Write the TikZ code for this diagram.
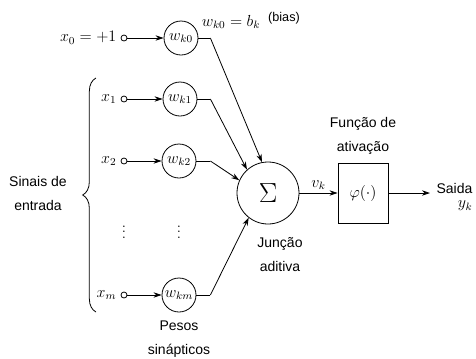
\documentclass[tikz,border=0pt]{standalone}
\usepackage{amsmath,amssymb}
\usepackage{fontspec}
\newfontfamily\lblfont{Liberation Sans}
\usetikzlibrary{arrows.meta,positioning,decorations.pathreplacing}

\begin{document}
\begin{tikzpicture}[x=0.75pt,y=-0.75pt,
  lbl/.style={font=\lblfont\fontsize{10.5}{18}\selectfont,align=center,inner sep=1pt},
  mth/.style={font=\fontsize{11.5}{13}\selectfont,inner sep=1pt},
  term/.style={circle,draw,fill=white,inner sep=0pt,minimum size=4.5pt,line width=0.6pt},
  wgt/.style={circle,draw,inner sep=0pt,minimum size=25.5pt,line width=0.6pt,font=\fontsize{12}{14}\selectfont},
  ar/.style={-{Stealth[length=6pt,width=4pt]},line width=0.6pt},
  ln/.style={line width=0.6pt}]
  \useasboundingbox (0,0) rectangle (476,358);
  % inputs and synaptic weights
  \node[term] (t0) at (124,38) {};
  \node[term] (t1) at (124,99) {};
  \node[term] (t2) at (124,161) {};
  \node[term] (tm) at (124,295) {};
  \node[mth,left=2pt of t0] (x0) {$x_0 = +1$};
  \node[mth,left=2pt of t1] (x1) {$x_1$};
  \node[mth,left=2pt of t2] (x2) {$x_2$};
  \node[mth,left=2pt of tm] (xm) {$x_m$};
  \node[wgt] (w0) at (181,38) {$w_{k0}$};
  \node[wgt] (w1) at (180,99) {$w_{k1}$};
  \node[wgt] (w2) at (179,161) {$w_{k2}$};
  \node[wgt] (wm) at (179,295) {$w_{km}$};
  \node[mth] (d1) at (124,228) {$\vdots$};
  \node[mth] (d2) at (179,228) {$\vdots$};
  \draw[ar] (t0)--(w0); \draw[ar] (t1)--(w1);
  \draw[ar] (t2)--(w2); \draw[ar] (tm)--(wm);
  \node[mth] (bk) at (231,22) {$w_{k0} = b_k$};
  \node[lbl,font=\lblfont\fontsize{9.5}{11}\selectfont] (bias) at (284,18) {(bias)};
  % summing junction and activation
  \node[circle,draw,line width=0.6pt,minimum size=46.5pt,font=\fontsize{20}{20}\selectfont] (sum) at (268,193) {$\Sigma$};
  \node[draw,line width=0.6pt,minimum width=37.5pt,minimum height=45pt,font=\fontsize{12}{14}\selectfont] (phi) at (363,193) {$\varphi(\cdot)$};
  \coordinate (out) at (430,193);
  \draw[ln] (w0.east)--++(12,0) coordinate (c0); \draw[ar] (c0)--(sum.101);
  \draw[ln] (w1.east)--++(13,0) coordinate (c1); \draw[ar] (c1)--(sum.132);
  \draw[ln] (w2.east)--++(14,0) coordinate (c2); \draw[ar] (c2)--(sum.156);
  \draw[ln] (wm.east)--++(14,0) coordinate (cm); \draw[ar] (cm)--(sum.232);
  \draw[ar] (sum)--(phi) node[mth,midway,above=1pt] (vk) {$v_k$};
  \draw[ar] (phi)--(out);
  \node[lbl,align=right,anchor=east] (sai) at (474,197) {Saida\\[-7pt]\fontsize{12}{14}\selectfont$y_k$};
  % labels
  \coordinate (bb) at (96,312);
  \coordinate (bt) at (96,78);
  \draw[ln,decorate,decoration={brace,amplitude=10pt}] (bb)--(bt);
  \node[lbl] (sin) at (38,193) {Sinais de\\entrada};
  \node[lbl] (fun) at (363,136) {Função de\\ativação};
  \node[lbl] (jun) at (280,255) {Junção\\aditiva};
  \node[lbl] (pes) at (179,339) {Pesos\\sinápticos};
\end{tikzpicture}
\end{document}
